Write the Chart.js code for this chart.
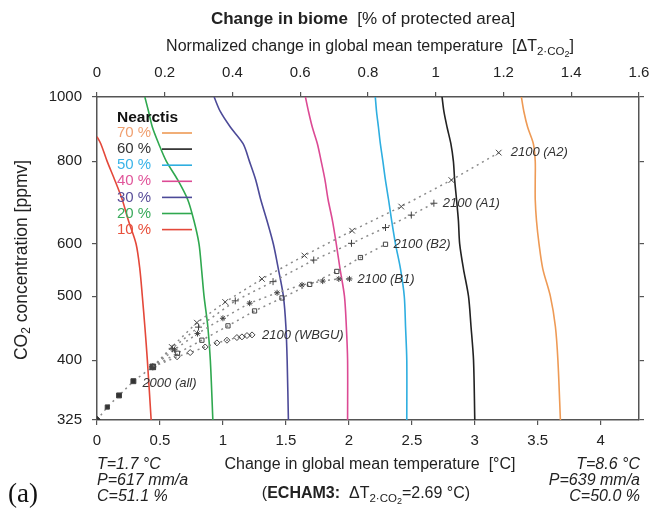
<!DOCTYPE html>
<html>
<head>
<meta charset="utf-8">
<script src="https://cdn.jsdelivr.net/npm/chart.js@4.4.1/dist/chart.umd.min.js"></script>
<style>
html, body { margin: 0; padding: 0; background: #fff; }
#wrap { width: 664px; height: 517px; }
</style>
</head>
<body>
<div id="wrap"><canvas id="biomeChart" width="664" height="517"></canvas></div>
<script>
// axis ticks
const xTicks = [0, 0.5, 1, 1.5, 2, 2.5, 3, 3.5, 4];
const topTicks = [0, 0.2, 0.4, 0.6, 0.8, 1, 1.2, 1.4, 1.6];
const yTicks = [325, 400, 500, 600, 800, 1000];
const dT2co2 = 2.69;

// biome change isolines: temperature change (degC) at each CO2 level
const co2Grid = [325, 400, 450, 500, 550, 600, 650, 700, 750, 800, 850, 900, 950, 1000];
const biome70 = [3.68, 3.66, 3.64, 3.60, 3.54, 3.51, 3.49, 3.48, 3.48, 3.48, 3.465, 3.42, 3.39, 3.37];
const biome60 = [3.00, 2.99, 2.97, 2.95, 2.91, 2.88, 2.87, 2.855, 2.84, 2.83, 2.81, 2.78, 2.755, 2.74];
const biome50 = [2.46, 2.46, 2.45, 2.44, 2.41, 2.37, 2.34, 2.315, 2.29, 2.27, 2.25, 2.235, 2.22, 2.21];
const biome40 = [1.99, 1.99, 1.98, 1.965, 1.93, 1.90, 1.87, 1.835, 1.81, 1.78, 1.75, 1.71, 1.68, 1.655];
const biome30 = [1.52, 1.51, 1.50, 1.48, 1.44, 1.40, 1.35, 1.30, 1.26, 1.21, 1.16, 1.06, 0.98, 0.93];
const biome20 = [0.92, 0.90, 0.88, 0.85, 0.83, 0.81, 0.77, 0.72, 0.64, 0.55, 0.49, 0.44, 0.41, 0.38];
const biome10Co2 = [325, 400, 450, 500, 550, 600, 650, 700, 750, 800, 850, 871];
const biome10 = [0.43, 0.40, 0.38, 0.36, 0.34, 0.31, 0.25, 0.20, 0.14, 0.08, 0.03, 0];

const biomeLabels = ['70 %', '60 %', '50 %', '40 %', '30 %', '20 %', '10 %'];
const biomeColors = ['#ee9a55', '#222222', '#2eaee0', '#dc4a94', '#4c4a98', '#2fa84f', '#e4483a'];
const labelColors = ['#f0a070', '#333333', '#3ab4e8', '#e0559a', '#5a4f9a', '#3aaa5c', '#e8503c'];

// emission scenario paths (temperature, CO2)
const histT = [0, 0.082, 0.175, 0.289, 0.443];
const histCo2 = [325, 340, 354, 372, 391];
const a2T = [0.443, 0.594, 0.793, 1.018, 1.310, 1.647, 2.026, 2.416, 2.814, 3.19];
const a2Co2 = [391, 419, 456, 490, 531, 576, 628, 683, 749, 824];
const a1T = [0.443, 0.597, 0.806, 1.098, 1.398, 1.721, 2.021, 2.291, 2.496, 2.675];
const a1Co2 = [391, 417, 449, 492, 526, 567, 601, 635, 663, 691];
const b2T = [0.443, 0.639, 0.833, 1.040, 1.251, 1.469, 1.689, 1.904, 2.092, 2.291];
const b2Co2 = [391, 410, 429, 451, 475, 497, 521, 545, 572, 599];
const b1T = [0.443, 0.615, 0.798, 1.000, 1.212, 1.430, 1.628, 1.792, 1.920, 2.005];
const b1Co2 = [391, 415, 439, 463, 488, 506, 520, 527, 531, 531];
const wbguT = [0.443, 0.636, 0.740, 0.859, 0.952, 1.032, 1.111, 1.151, 1.191, 1.231];
const wbguCo2 = [391, 405, 411, 419, 425, 429, 433, 434, 436, 437];

const sans = '"Liberation Sans", Arial, sans-serif';

function toPoints(xs, ys) {
    return xs.map((v, i) => ({ x: v, y: ys[i] }));
}

function isoline(values, co2, i) {
    return {
        data: toPoints(values, co2),
        showLine: true,
        borderColor: biomeColors[i],
        borderWidth: 1.6,
        pointRadius: 0,
        tension: 0.3,
        order: 2
    };
}

function scenario(xs, ys, style, radius, filled) {
    return {
        data: toPoints(xs, ys),
        showLine: true,
        borderColor: '#8a8a8a',
        borderWidth: 1.5,
        borderDash: [2, 4],
        pointStyle: style,
        pointRadius: radius,
        pointBorderColor: '#444',
        pointBorderWidth: 1,
        pointBackgroundColor: filled ? '#333' : 'rgba(255,255,255,0)',
        tension: 0,
        order: 1
    };
}

function richText(ctx, parts, x, y, align) {
    let w = 0;
    parts.forEach(p => { ctx.font = p.font; p.w = ctx.measureText(p.t).width; w += p.w; });
    let cx = align === 'center' ? x - w / 2 : (align === 'right' ? x - w : x);
    ctx.textAlign = 'left';
    ctx.textBaseline = 'middle';
    parts.forEach(p => {
        ctx.font = p.font;
        ctx.fillStyle = p.color || '#222';
        ctx.fillText(p.t, cx, y + (p.dy || 0));
        cx += p.w;
    });
}

const textPlugin = {
    id: 'biomeText',
    afterDraw(chart) {
        const ctx = chart.ctx;
        const xs = chart.scales.x;
        const ys = chart.scales.y;
        const f = (s, style) => (style || '') + ' ' + s + 'px ' + sans;
        ctx.save();

        // titles
        richText(ctx, [
            { t: 'Change in biome', font: f(17, 'bold') },
            { t: '  [% of protected area]', font: f(17) }
        ], 363, 19, 'center');
        richText(ctx, [
            { t: 'Normalized change in global mean temperature  [\u0394T', font: f(16) },
            { t: '2\u00b7CO', font: f(11.5), dy: 5 },
            { t: '2', font: f(9), dy: 8 },
            { t: ']', font: f(16) }
        ], 370, 47, 'center');

        // y axis title
        ctx.save();
        ctx.translate(22, 260);
        ctx.rotate(-Math.PI / 2);
        richText(ctx, [
            { t: 'CO', font: f(17.5) },
            { t: '2', font: f(12), dy: 5 },
            { t: ' concentration [ppmv]', font: f(17.5) }
        ], 0, 0, 'center');
        ctx.restore();

        // bottom titles
        richText(ctx, [{ t: 'Change in global mean temperature  [\u00b0C]', font: f(16) }], 370, 465, 'center');
        richText(ctx, [
            { t: '(', font: f(16) },
            { t: 'ECHAM3:', font: f(16, 'bold') },
            { t: '  \u0394T', font: f(16) },
            { t: '2\u00b7CO', font: f(11.5), dy: 5 },
            { t: '2', font: f(9), dy: 8 },
            { t: '=2.69 \u00b0C)', font: f(16) }
        ], 366, 494, 'center');

        const leftInfo = ['T=1.7 \u00b0C', 'P=617 mm/a', 'C=51.1 %'];
        const rightInfo = ['T=8.6 \u00b0C', 'P=639 mm/a', 'C=50.0 %'];
        leftInfo.forEach((t, i) => richText(ctx, [{ t: t, font: f(16, 'italic') }], 97, 465 + i * 16, 'left'));
        rightInfo.forEach((t, i) => richText(ctx, [{ t: t, font: f(16, 'italic') }], 640, 465 + i * 16, 'right'));

        ctx.font = '27px "Liberation Serif", "DejaVu Serif", serif';
        ctx.fillStyle = '#111';
        ctx.textAlign = 'left';
        ctx.textBaseline = 'middle';
        ctx.fillText('(a)', 8, 495);

        // legend
        richText(ctx, [{ t: 'Nearctis', font: f(15.5, 'bold'), color: '#111' }], 117, 118, 'left');
        biomeLabels.forEach((lab, i) => {
            const yy = 133 + i * 16.1;
            richText(ctx, [{ t: lab, font: f(15), color: labelColors[i] }], 117, yy, 'left');
            ctx.strokeStyle = biomeColors[i];
            ctx.lineWidth = 1.6;
            ctx.beginPath();
            ctx.moveTo(162, yy);
            ctx.lineTo(192, yy);
            ctx.stroke();
        });

        // scenario labels
        const ends = [
            ['2100 (A2)', a2T, a2Co2, 12],
            ['2100 (A1)', a1T, a1Co2, 9],
            ['2100 (B2)', b2T, b2Co2, 8],
            ['2100 (B1)', b1T, b1Co2, 8],
            ['2100 (WBGU)', wbguT, wbguCo2, 10]
        ];
        ends.forEach(([name, t, c, dx]) => {
            const n = t.length - 1;
            richText(ctx, [{ t: name, font: f(13, 'italic'), color: '#333' }],
                xs.getPixelForValue(t[n]) + dx, ys.getPixelForValue(c[n]), 'left');
        });
        richText(ctx, [{ t: '2000 (all)', font: f(13, 'italic'), color: '#333' }],
            xs.getPixelForValue(histT[3]) + 9, ys.getPixelForValue(histCo2[3]) + 2, 'left');

        ctx.restore();
    }
};

function axisStyle(extra) {
    return Object.assign({
        grid: { drawOnChartArea: false, tickLength: 5, color: '#555', lineWidth: 1.2 },
        border: { color: '#555', width: 1.5 },
        ticks: { color: '#222', font: { family: sans, size: 15 } }
    }, extra);
}

const ctx = document.getElementById('biomeChart').getContext('2d');
const chart = new Chart(ctx, {
    type: 'scatter',
    data: {
        datasets: [
            isoline(biome70, co2Grid, 0),
            isoline(biome60, co2Grid, 1),
            isoline(biome50, co2Grid, 2),
            isoline(biome40, co2Grid, 3),
            isoline(biome30, co2Grid, 4),
            isoline(biome20, co2Grid, 5),
            isoline(biome10, biome10Co2, 6),
            scenario(a2T, a2Co2, 'crossRot', 4, false),
            scenario(a1T, a1Co2, 'cross', 3.5, false),
            scenario(b2T, b2Co2, 'rect', 3, false),
            scenario(b1T, b1Co2, 'star', 3, true),
            scenario(wbguT, wbguCo2, 'rectRot', 3, false),
            Object.assign(scenario(histT, histCo2, 'rect', 3.5, true), {
                pointStyle: ['rectRot', 'rect', 'rect', 'rect', 'rect'],
                pointRadius: [4, 3, 3.5, 3.5, 4]
            })
        ]
    },
    options: {
        responsive: false,
        animation: false,
        devicePixelRatio: 1,
        layout: { padding: 0 },
        plugins: {
            legend: { display: false },
            tooltip: { enabled: false }
        },
        scales: {
            x: axisStyle({
                type: 'linear',
                position: 'bottom',
                min: 0,
                max: 1.6 * dT2co2,
                afterBuildTicks: s => { s.ticks = xTicks.map(v => ({ value: v })); },
                afterFit: s => { s.height = 97; },
                ticks: { color: '#222', padding: 7, font: { family: sans, size: 15 }, callback: v => String(v) }
            }),
            x2: axisStyle({
                type: 'linear',
                position: 'top',
                min: 0,
                max: 1.6,
                afterBuildTicks: s => { s.ticks = topTicks.map(v => ({ value: v })); },
                afterFit: s => { s.height = 97; },
                ticks: { color: '#222', padding: 10, font: { family: sans, size: 15 }, callback: v => String(v) }
            }),
            y: axisStyle({
                type: 'logarithmic',
                position: 'left',
                min: 325,
                max: 1000,
                afterBuildTicks: s => { s.ticks = yTicks.map(v => ({ value: v })); },
                afterFit: s => { s.width = 97; },
                ticks: { color: '#222', padding: 10, font: { family: sans, size: 15 }, callback: v => String(v) }
            }),
            y2: axisStyle({
                type: 'logarithmic',
                position: 'right',
                min: 325,
                max: 1000,
                afterBuildTicks: s => { s.ticks = yTicks.map(v => ({ value: v })); },
                afterFit: s => { s.width = 25; },
                ticks: { display: false }
            })
        }
    },
    plugins: [textPlugin]
});
</script>
</body>
</html>
